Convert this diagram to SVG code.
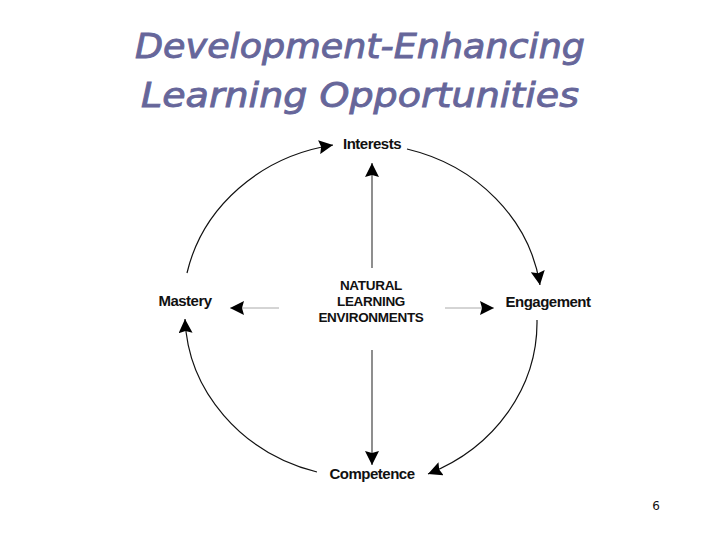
<svg xmlns="http://www.w3.org/2000/svg" width="720" height="540" viewBox="0 0 720 540">
<style>
.title{font-family:"DejaVu Sans",Verdana,sans-serif;font-style:oblique;font-size:34px;fill:#66669a;stroke:#66669a;stroke-width:0.9;text-anchor:middle}
.lbl{font-family:"Liberation Sans",Arial,sans-serif;font-weight:bold;font-size:15px;fill:#111;text-anchor:middle;letter-spacing:-0.5px}
.ctr{font-family:"Liberation Sans",Arial,sans-serif;font-weight:bold;font-size:13.5px;fill:#111;text-anchor:middle;letter-spacing:-0.3px}
.arc{fill:none;stroke:#111;stroke-width:1.2}
.gray{fill:none;stroke:#aaa;stroke-width:1}
.dark{fill:none;stroke:#444;stroke-width:1.2}
.pg{font-family:"DejaVu Sans",sans-serif;font-size:12px;fill:#111;text-anchor:middle}
</style>
<defs>
<marker id="ah" markerWidth="15" markerHeight="14" refX="14" refY="7" orient="auto" markerUnits="userSpaceOnUse">
<path d="M0,0 L14,7 L0,14 L2,7 Z" fill="#000"/>
</marker>
</defs>
<rect width="720" height="540" fill="#fff"/>
<text class="title" x="360" y="58" textLength="450" lengthAdjust="spacingAndGlyphs">Development-Enhancing</text>
<text class="title" x="360" y="107" textLength="438" lengthAdjust="spacingAndGlyphs">Learning Opportunities</text>
<g id="connectors">
<path class="arc" d="M187,273 A180,165 0 0 1 333,145" marker-end="url(#ah)"/>
<path class="arc" d="M407,149 A180,165 0 0 1 540,285" marker-end="url(#ah)"/>
<path class="arc" d="M537,320 A180,165 0 0 1 428,474" marker-end="url(#ah)"/>
<path class="arc" d="M317,472 A180,165 0 0 1 185,319" marker-end="url(#ah)"/>
<path class="dark" d="M372,268 L372,163" marker-end="url(#ah)"/>
<path class="dark" d="M372,350 L372,465" marker-end="url(#ah)"/>
<path class="gray" d="M279,308 L230,308" marker-end="url(#ah)"/>
<path class="gray" d="M445,308 L494,308" marker-end="url(#ah)"/>
</g>
<g id="interests"><text class="lbl" x="372" y="149">Interests</text></g>
<g id="engagement"><text class="lbl" x="548" y="307">Engagement</text></g>
<g id="competence"><text class="lbl" x="372" y="479">Competence</text></g>
<g id="mastery"><text class="lbl" x="185" y="306">Mastery</text></g>
<g id="center">
<text class="ctr" x="371" y="290">NATURAL</text>
<text class="ctr" x="371" y="306">LEARNING</text>
<text class="ctr" x="371" y="322">ENVIRONMENTS</text>
</g>
<text class="pg" x="656" y="510">6</text>
</svg>
